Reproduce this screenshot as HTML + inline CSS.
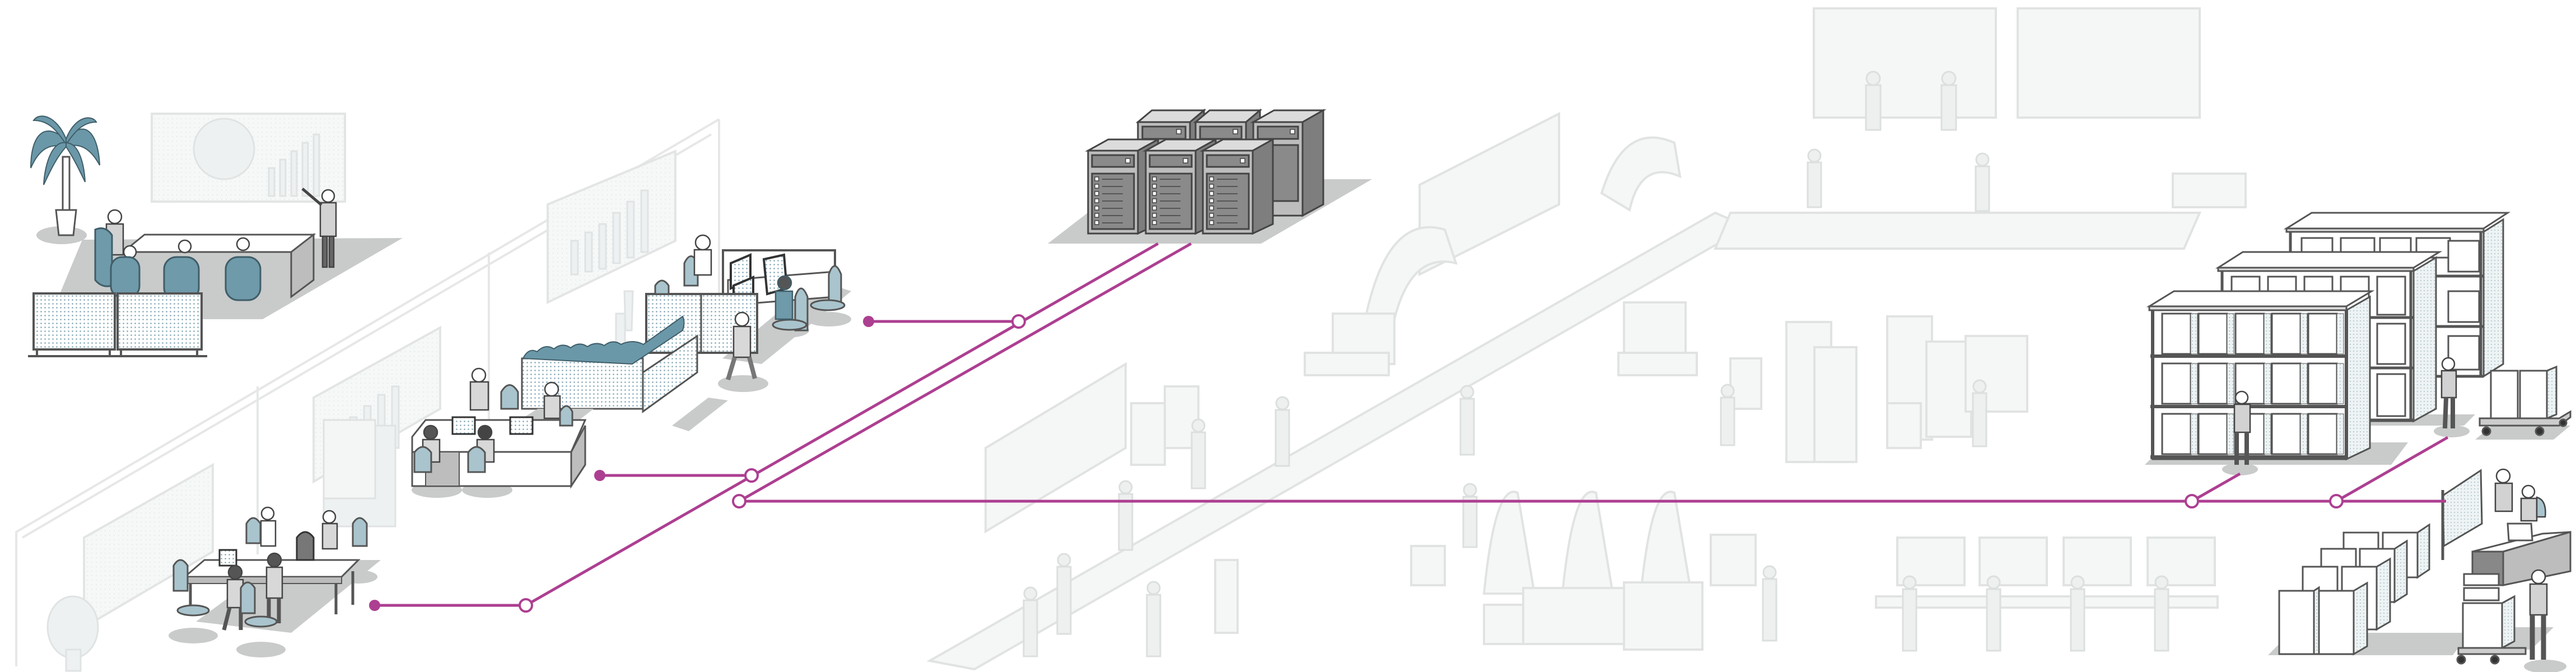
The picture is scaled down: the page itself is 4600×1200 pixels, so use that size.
<!DOCTYPE html>
<html><head><meta charset="utf-8"><style>
html,body{margin:0;padding:0;background:#fff;}
svg{display:block;}
</style></head><body>
<svg width="4600" height="1200" viewBox="0 0 4600 1200" xmlns="http://www.w3.org/2000/svg">
<defs>
<pattern id="dt" width="7" height="7" patternUnits="userSpaceOnUse"><rect width="7" height="7" fill="#fff"/><circle cx="3.5" cy="3.5" r="1.3" fill="#7fa6b4"/></pattern>
<pattern id="ds" width="6" height="6" patternUnits="userSpaceOnUse"><rect width="6" height="6" fill="#eef3f4"/><circle cx="3" cy="3" r="1.1" fill="#b5cad1"/></pattern>
<pattern id="df" width="8" height="8" patternUnits="userSpaceOnUse"><rect width="8" height="8" fill="#f6f8f8"/><circle cx="4" cy="4" r="1" fill="#e2e8e9"/></pattern>
</defs>

<!-- ===== faint walls / background office ===== -->
<g fill="none" stroke="#e6e7e7" stroke-width="4">
<polyline points="1284,213 1284,560"/>
<polyline points="1284,213 29,950 29,1190"/>
<polyline points="1270,240 40,960"/>
<polyline points="873,451 873,770"/>
<polyline points="460,690 460,990"/>
</g>
<!-- faint whiteboards -->
<g fill="url(#df)" stroke="#e3e5e5" stroke-width="4">
<rect x="271" y="203" width="345" height="157"/>
<polygon points="978,365 1206,270 1206,430 978,540"/>
<polygon points="560,710 786,585 786,730 560,860"/>
<polygon points="150,960 380,830 380,985 150,1120"/>
</g>
<g fill="#eef1f1" stroke="#e0e3e3" stroke-width="3">
<circle cx="400" cy="266" r="54"/>
<rect x="480" y="300" width="10" height="50"/><rect x="500" y="285" width="10" height="65"/><rect x="520" y="270" width="10" height="80"/><rect x="540" y="255" width="10" height="95"/><rect x="560" y="240" width="10" height="110"/>
<rect x="1020" y="430" width="12" height="60"/><rect x="1045" y="415" width="12" height="70"/><rect x="1070" y="400" width="12" height="80"/><rect x="1095" y="380" width="12" height="90"/><rect x="1120" y="360" width="12" height="100"/><rect x="1145" y="340" width="12" height="110"/>
<rect x="600" y="760" width="12" height="70"/><rect x="625" y="745" width="12" height="80"/><rect x="650" y="725" width="12" height="90"/><rect x="675" y="705" width="12" height="100"/><rect x="700" y="690" width="12" height="110"/>
<rect x="578" y="760" width="128" height="180"/>
<rect x="1100" y="560" width="16" height="90"/>
<polygon points="1115,520 1130,520 1128,590 1117,590"/>
<ellipse cx="130" cy="1120" rx="45" ry="55"/><rect x="118" y="1160" width="26" height="38"/>
</g>

<!-- ===== meeting room ===== -->
<polygon points="147,428 719,425 469,570 88,570" fill="#c9caca"/>
<ellipse cx="110" cy="420" rx="45" ry="16" fill="#c9caca"/>
<!-- palm -->
<rect x="112" y="280" width="12" height="100" fill="#fff" stroke="#555" stroke-width="3"/>
<path d="M100,375 h36 l-5,45 h-26 z" fill="#fff" stroke="#555" stroke-width="3"/>
<g fill="#6b98a8" stroke="#3f5e69" stroke-width="2">
<path d="M118,250 C80,215 55,240 55,300 C70,265 90,255 118,262 Z"/>
<path d="M118,250 C150,210 175,235 178,295 C160,262 140,255 118,262 Z"/>
<path d="M118,248 C100,205 70,200 60,215 C85,215 100,230 118,258 Z"/>
<path d="M118,248 C135,205 165,205 172,218 C150,218 135,232 118,258 Z"/>
<path d="M118,255 C95,250 80,290 78,330 C92,300 102,280 118,262 Z"/>
<path d="M118,255 C140,255 150,290 152,325 C140,300 130,280 118,262 Z"/>
</g>
<!-- table -->
<polygon points="258,419 560,419 520,450 220,450" fill="#fff" stroke="#555" stroke-width="3"/>
<polygon points="520,450 560,419 560,500 520,530" fill="#bdbdbd" stroke="#555" stroke-width="3"/>
<!-- people meeting -->
<g fill="#d2d2d2" stroke="#444" stroke-width="2.5">
<circle cx="205" cy="387" r="12" fill="#fff"/><path d="M190,400 h30 v55 h-30z"/>
<circle cx="232" cy="450" r="11" fill="#fff"/><circle cx="330" cy="440" r="11" fill="#fff"/><circle cx="434" cy="436" r="11" fill="#fff"/>
<circle cx="586" cy="350" r="11" fill="#fff"/><path d="M572,362 h28 v60 h-28z"/><path d="M576,422 h8 v55 h-8z M588,422 h8 v55 h-8z" fill="#666"/>
<path d="M574,366 L540,337" stroke-width="5"/>
</g>
<g fill="#6f9aaa" stroke="#3f5e69" stroke-width="3">
<path d="M170,410 q18,-8 30,10 v90 q-18,5 -30,-10z"/>
<rect x="198" y="459" width="51" height="72" rx="20"/>
<rect x="293" y="459" width="62" height="77" rx="22"/>
<rect x="403" y="459" width="62" height="77" rx="22"/>
</g>
<!-- partitions -->
<g stroke="#555" stroke-width="4">
<rect x="60" y="524" width="145" height="100" fill="url(#dt)"/>
<rect x="210" y="524" width="150" height="100" fill="url(#dt)"/>
<path d="M66,624 v12 M196,624 v12 M216,624 v12 M352,624 v12 M50,636 h320" fill="none"/>
</g>

<!-- ===== office cluster 2 (cubicle) ===== -->
<polygon points="1290,640 1460,500 1520,520 1360,650" fill="#c9caca"/>
<ellipse cx="1405" cy="590" rx="40" ry="13" fill="#c9caca"/><ellipse cx="1480" cy="570" rx="40" ry="13" fill="#c9caca"/>
<ellipse cx="1327" cy="685" rx="45" ry="15" fill="#c9caca"/>
<rect x="1291" y="447" width="200" height="80" fill="#fff" stroke="#555" stroke-width="4"/>
<polygon points="1300,500 1491,485 1491,530 1300,545" fill="#fff" stroke="#555" stroke-width="3"/>
<g fill="url(#dt)" stroke="#333" stroke-width="4">
<polygon points="1305,470 1340,455 1340,500 1305,515"/>
<polygon points="1364,463 1400,455 1405,515 1370,525"/>
<polygon points="1310,510 1345,495 1345,540 1310,550"/>
</g>
<rect x="1154" y="525" width="198" height="105" fill="url(#dt)" stroke="#555" stroke-width="4"/>
<line x1="1252" y1="525" x2="1252" y2="630" stroke="#555" stroke-width="3"/>
<g fill="#a9c4cd" stroke="#555" stroke-width="3">
<path d="M1222,470 q12,-25 24,0 v40 h-24z"/>
<path d="M1170,510 q12,-18 24,0 v15 h-24z"/>
<path d="M1480,490 q10,-30 22,0 v60 h-22z"/>
<path d="M1420,530 q10,-30 22,0 v60 h-22z"/>
<ellipse cx="1410" cy="580" rx="30" ry="9"/><ellipse cx="1478" cy="545" rx="30" ry="9"/>
</g>
<g fill="#6f9aaa" stroke="#3f5e69" stroke-width="2.5"><path d="M1385,520 h30 v50 h-30z"/><circle cx="1401" cy="505" r="12" fill="#555"/></g>
<g fill="#d8d8d8" stroke="#444" stroke-width="2.5">
<circle cx="1255" cy="433" r="13" fill="#fff"/><path d="M1240,446 h30 v45 h-30z" fill="#fff"/>
<circle cx="1325" cy="570" r="12" fill="#fff"/><path d="M1310,583 h30 v55 h-30z"/>
<path d="M1312,638 l-12,40 M1338,638 l10,38" stroke="#777" stroke-width="8"/>
</g>

<!-- partition with greenery -->
<polygon points="1200,760 1265,710 1300,715 1230,770" fill="#c9caca"/>
<rect x="932" y="640" width="216" height="90" fill="url(#dt)" stroke="#555" stroke-width="3"/>
<polygon points="1148,735 1245,665 1245,600 1148,665" fill="url(#dt)" stroke="#555" stroke-width="3"/>
<path d="M934,640 q10,-20 25,-12 q15,-15 30,-5 q15,-12 30,-2 q15,-12 30,-2 q15,-10 30,-2 q15,-12 30,-2 q20,-10 40,0 l70,-50 q5,10 0,25 l-90,60 z" fill="#6b98a8" stroke="#3f5e69" stroke-width="2"/>

<!-- desk cluster -->
<polygon points="780,842 960,730 1060,730 880,870" fill="#c9caca"/>
<ellipse cx="780" cy="875" rx="45" ry="14" fill="#c9caca"/><ellipse cx="870" cy="875" rx="45" ry="14" fill="#c9caca"/>
<polygon points="736,780 760,750 1045,750 1020,807 736,807" fill="#fff" stroke="#555" stroke-width="3"/>
<polygon points="736,807 1020,807 1020,868 736,868" fill="#fff" stroke="#555" stroke-width="3"/>
<polygon points="1020,807 1045,760 1045,830 1020,868" fill="#bdbdbd" stroke="#555" stroke-width="3"/>
<rect x="760" y="807" width="60" height="61" fill="#bdbdbd" stroke="#555" stroke-width="2"/>
<g fill="url(#dt)" stroke="#333" stroke-width="3"><rect x="808" y="745" width="40" height="30"/><rect x="911" y="745" width="40" height="30"/></g>
<g fill="#d8d8d8" stroke="#444" stroke-width="2.5">
<circle cx="855" cy="670" r="12" fill="#fff"/><path d="M840,682 h32 v50 h-32z"/>
<circle cx="769" cy="772" r="12" fill="#555"/><path d="M755,785 h30 v40 h-30z"/>
<circle cx="866" cy="772" r="12" fill="#444"/><path d="M852,785 h30 v40 h-30z"/>
<circle cx="985" cy="695" r="12" fill="#fff"/><path d="M972,707 h28 v40 h-28z"/>
</g>
<g fill="#a9c4cd" stroke="#555" stroke-width="3">
<path d="M740,808 q15,-20 30,0 v35 h-30z"/><path d="M836,808 q15,-20 30,0 v35 h-30z"/>
<path d="M895,700 q15,-25 30,0 v30 h-30z"/><path d="M1000,735 q12,-20 22,0 v25 h-22z"/>
</g>
<g fill="#f4f5f5" stroke="#e0e2e2" stroke-width="3"><rect x="578" y="750" width="92" height="140"/></g>

<!-- bottom left cluster -->
<polygon points="350,1110 500,1000 680,1000 520,1130" fill="#c9caca"/>
<ellipse cx="345" cy="1135" rx="44" ry="14" fill="#c9caca"/><ellipse cx="466" cy="1160" rx="44" ry="14" fill="#c9caca"/><ellipse cx="640" cy="1030" rx="34" ry="12" fill="#c9caca"/>
<polygon points="330,1030 365,1000 640,1000 610,1030" fill="#fff" stroke="#555" stroke-width="3"/>
<polygon points="330,1030 610,1030 610,1042 330,1042" fill="#bbb" stroke="#555" stroke-width="2"/>
<path d="M340,1042 v55 M600,1042 v55 M630,1020 v60" stroke="#555" stroke-width="5"/>
<rect x="392" y="982" width="30" height="28" fill="url(#dt)" stroke="#333" stroke-width="3"/>
<path d="M530,960 q15,-20 30,0 v40 h-30z" fill="#777" stroke="#333" stroke-width="3"/>
<g fill="#d8d8d8" stroke="#444" stroke-width="2.5">
<circle cx="478" cy="917" r="11" fill="#fff"/><path d="M466,930 h26 v45 h-26z" fill="#fff"/>
<circle cx="588" cy="923" r="11" fill="#fff"/><path d="M576,935 h26 v45 h-26z"/>
<circle cx="420" cy="1022" r="12" fill="#555"/><path d="M406,1035 h28 v50 h-28z"/><path d="M410,1085 l-10,40 M430,1085 v40" stroke="#555" stroke-width="7"/>
<circle cx="490" cy="1000" r="12" fill="#555"/><path d="M476,1013 h28 v55 h-28z"/><path d="M480,1068 v45 M498,1068 v45" stroke="#555" stroke-width="7"/>
</g>
<g fill="#a9c4cd" stroke="#555" stroke-width="3">
<path d="M440,935 q12,-20 25,0 v35 h-25z"/><path d="M630,935 q12,-20 25,0 v40 h-25z"/>
<path d="M310,1010 q12,-20 25,0 v45 h-25z"/><path d="M430,1050 q12,-20 25,0 v45 h-25z"/>
<ellipse cx="345" cy="1090" rx="28" ry="9"/><ellipse cx="466" cy="1110" rx="28" ry="9"/>
</g>

<!-- ===== faint factory ===== -->
<g fill="#f5f6f6" stroke="#e1e3e3" stroke-width="4">
<!-- diagonal conveyor -->
<polygon points="3063,380 3120,405 1740,1195 1660,1180"/>
<!-- top conveyor -->
<polygon points="3090,380 3928,380 3900,444 3063,444"/>
<!-- boards -->
<polygon points="2535,330 2784,203 2784,365 2535,490"/>
<polygon points="1760,800 2010,650 2010,800 1760,949"/>
<rect x="3239" y="15" width="325" height="195"/>
<rect x="3603" y="15" width="325" height="195"/>
<rect x="3880" y="310" width="130" height="60"/>
<!-- robot arms -->
<path d="M2440,560 q40,-180 140,-150 l20,60 q-80,-20 -110,100z"/>
<path d="M2860,345 q40,-130 130,-90 l10,60 q-70,-30 -90,60z"/>
<rect x="2380" y="560" width="110" height="90"/><rect x="2900" y="540" width="110" height="90"/>
<rect x="2330" y="630" width="150" height="40"/><rect x="2890" y="630" width="140" height="40"/>
<!-- middle machines -->
<rect x="3190" y="575" width="80" height="250"/><rect x="3240" y="620" width="75" height="205"/>
<rect x="3370" y="565" width="80" height="220"/><rect x="3440" y="610" width="80" height="170"/>
<rect x="3510" y="600" width="110" height="135"/><rect x="3090" y="640" width="55" height="90"/>
<rect x="3370" y="720" width="60" height="80"/>
<!-- bottom machines -->
<path d="M2650,1060 q20,-200 60,-180 l30,180z"/><path d="M2790,1060 q20,-200 60,-180 l30,180z"/><path d="M2930,1060 q20,-200 60,-180 l30,180z"/>
<rect x="2720" y="1050" width="180" height="100"/><rect x="2650" y="1080" width="70" height="70"/>
<rect x="2900" y="1040" width="140" height="120"/><rect x="2520" y="975" width="60" height="70"/>
<rect x="3055" y="955" width="80" height="90"/>
<!-- monitors bottom -->
<rect x="3388" y="960" width="120" height="85"/><rect x="3535" y="960" width="120" height="85"/><rect x="3685" y="960" width="120" height="85"/><rect x="3835" y="960" width="120" height="85"/>
<rect x="3350" y="1065" width="610" height="20"/>
<!-- left-center factory stuff -->
<rect x="2020" y="720" width="60" height="110"/><rect x="2080" y="690" width="60" height="110"/>
<rect x="2170" y="1000" width="40" height="130"/>
</g>
<g fill="#eef0f0" stroke="#dcdfdf" stroke-width="3">
<!-- faint people -->
<circle cx="3345" cy="140" r="12"/><rect x="3332" y="152" width="26" height="80"/>
<circle cx="3480" cy="140" r="12"/><rect x="3467" y="152" width="26" height="80"/>
<circle cx="3240" cy="278" r="11"/><rect x="3228" y="290" width="24" height="80"/>
<circle cx="3540" cy="285" r="11"/><rect x="3528" y="297" width="24" height="80"/>
<circle cx="3085" cy="698" r="11"/><rect x="3073" y="710" width="24" height="85"/>
<circle cx="3535" cy="690" r="11"/><rect x="3523" y="702" width="24" height="95"/>
<circle cx="2625" cy="875" r="11"/><rect x="2613" y="887" width="24" height="90"/>
<circle cx="3160" cy="1022" r="11"/><rect x="3148" y="1034" width="24" height="110"/>
<circle cx="3410" cy="1040" r="11"/><rect x="3398" y="1052" width="24" height="110"/>
<circle cx="3560" cy="1040" r="11"/><rect x="3548" y="1052" width="24" height="110"/>
<circle cx="3710" cy="1040" r="11"/><rect x="3698" y="1052" width="24" height="110"/>
<circle cx="3860" cy="1040" r="11"/><rect x="3848" y="1052" width="24" height="110"/>
<circle cx="2620" cy="700" r="11"/><rect x="2608" y="712" width="24" height="100"/>
<circle cx="2290" cy="720" r="11"/><rect x="2278" y="732" width="24" height="100"/>
<circle cx="2010" cy="870" r="11"/><rect x="1998" y="882" width="24" height="100"/>
<circle cx="2140" cy="760" r="11"/><rect x="2128" y="772" width="24" height="100"/>
<circle cx="1900" cy="1000" r="11"/><rect x="1888" y="1012" width="24" height="120"/>
<circle cx="1840" cy="1060" r="11"/><rect x="1828" y="1072" width="24" height="100"/>
<circle cx="2060" cy="1050" r="11"/><rect x="2048" y="1062" width="24" height="110"/>
</g>

<!-- ===== servers ===== -->
<polygon points="2020,320 2450,320 2252,435 1871,435" fill="#c9caca"/>
<g stroke="#444" stroke-width="3">
<!-- back row -->
<g>
<polygon points="2032,218 2125,218 2150,197 2057,197" fill="#dcdcdc"/><rect x="2032" y="218" width="93" height="170" fill="#bdbdbd"/><polygon points="2125,218 2150,197 2150,370 2125,388" fill="#7e7e7e"/><rect x="2040" y="226" width="77" height="22" fill="#8a8a8a"/>
<polygon points="2135,218 2225,218 2250,197 2160,197" fill="#dcdcdc"/><rect x="2135" y="218" width="90" height="170" fill="#bdbdbd"/><polygon points="2225,218 2250,197 2250,370 2225,388" fill="#7e7e7e"/><rect x="2143" y="226" width="74" height="22" fill="#8a8a8a"/>
<polygon points="2238,218 2326,218 2363,197 2275,197" fill="#dcdcdc"/><rect x="2238" y="218" width="88" height="167" fill="#bdbdbd"/><polygon points="2326,218 2363,197 2363,365 2326,385" fill="#7e7e7e"/><rect x="2246" y="226" width="72" height="22" fill="#8a8a8a"/><rect x="2246" y="259" width="72" height="100" fill="#8a8a8a"/>
</g>
<!-- front row -->
<g>
<polygon points="1943,269 2032,269 2068,249 1979,249" fill="#dcdcdc"/><rect x="1943" y="269" width="89" height="148" fill="#bdbdbd"/><polygon points="2032,269 2068,249 2068,400 2032,417" fill="#7e7e7e"/><rect x="1950" y="277" width="75" height="21" fill="#8a8a8a"/><rect x="1950" y="310" width="75" height="99" fill="#8a8a8a"/>
<polygon points="2046,269 2135,269 2171,249 2082,249" fill="#dcdcdc"/><rect x="2046" y="269" width="89" height="148" fill="#bdbdbd"/><polygon points="2135,269 2171,249 2171,400 2135,417" fill="#7e7e7e"/><rect x="2053" y="277" width="75" height="21" fill="#8a8a8a"/><rect x="2053" y="310" width="75" height="99" fill="#8a8a8a"/>
<polygon points="2148,269 2237,269 2273,249 2184,249" fill="#dcdcdc"/><rect x="2148" y="269" width="89" height="148" fill="#bdbdbd"/><polygon points="2237,269 2273,249 2273,400 2237,417" fill="#7e7e7e"/><rect x="2155" y="277" width="75" height="21" fill="#8a8a8a"/><rect x="2155" y="310" width="75" height="99" fill="#8a8a8a"/>
</g>
</g>
<g fill="#fff" stroke="#444" stroke-width="1.5">
<rect x="2010" y="283" width="8" height="8"/><rect x="2113" y="283" width="8" height="8"/><rect x="2215" y="283" width="8" height="8"/>
<rect x="2101" y="231" width="8" height="8"/><rect x="2202" y="231" width="8" height="8"/><rect x="2304" y="231" width="8" height="8"/>
</g>
<g stroke="#555" stroke-width="2">
<path d="M1968,320h37M1968,333h37M1968,346h37M1968,359h37M1968,372h37M1968,385h37M1968,398h37"/>
<path d="M2071,320h37M2071,333h37M2071,346h37M2071,359h37M2071,372h37M2071,385h37M2071,398h37"/>
<path d="M2173,320h37M2173,333h37M2173,346h37M2173,359h37M2173,372h37M2173,385h37M2173,398h37"/>
</g>
<g fill="#fff" stroke="#444" stroke-width="1.5">
<rect x="1955" y="316" width="7" height="7"/><rect x="1955" y="329" width="7" height="7"/><rect x="1955" y="342" width="7" height="7"/><rect x="1955" y="355" width="7" height="7"/><rect x="1955" y="368" width="7" height="7"/><rect x="1955" y="381" width="7" height="7"/><rect x="1955" y="394" width="7" height="7"/>
<rect x="2058" y="316" width="7" height="7"/><rect x="2058" y="329" width="7" height="7"/><rect x="2058" y="342" width="7" height="7"/><rect x="2058" y="355" width="7" height="7"/><rect x="2058" y="368" width="7" height="7"/><rect x="2058" y="381" width="7" height="7"/><rect x="2058" y="394" width="7" height="7"/>
<rect x="2160" y="316" width="7" height="7"/><rect x="2160" y="329" width="7" height="7"/><rect x="2160" y="342" width="7" height="7"/><rect x="2160" y="355" width="7" height="7"/><rect x="2160" y="368" width="7" height="7"/><rect x="2160" y="381" width="7" height="7"/><rect x="2160" y="394" width="7" height="7"/>
</g>

<!-- ===== racks ===== -->
<polygon points="3830,830 4270,830 4300,790 3870,790" fill="#c9caca"/>
<polygon points="4200,760 4400,760 4420,740 4220,740" fill="#c9caca"/>
<!-- rack3 -->
<g stroke="#555" stroke-width="3">
<polygon points="4083,408 4435,408 4478,380 4128,380" fill="#fff"/>
<rect x="4083" y="408" width="352" height="6" fill="#ddd"/>
<rect x="4090" y="414" width="345" height="258" fill="#fff"/>
<polygon points="4435,414 4470,392 4470,650 4435,672" fill="url(#ds)"/>
<path d="M4090,414v258 M4430,414v258 M4090,493h345 M4090,583h345 M4090,672h345" fill="none" stroke-width="5"/>
<rect x="4110" y="425" width="55" height="35" fill="#fff"/><rect x="4180" y="425" width="60" height="35" fill="#fff"/><rect x="4250" y="425" width="55" height="35" fill="#fff"/><rect x="4315" y="425" width="60" height="35" fill="#fff"/>
<rect x="4372" y="430" width="55" height="55" fill="#fff"/><rect x="4372" y="520" width="55" height="55" fill="#fff"/><rect x="4372" y="600" width="55" height="60" fill="#fff"/>
</g>
<!-- rack2 -->
<g stroke="#555" stroke-width="3">
<polygon points="3961,478 4310,478 4356,450 4005,450" fill="#fff"/>
<rect x="3961" y="478" width="349" height="6" fill="#ddd"/>
<rect x="3968" y="484" width="342" height="268" fill="#fff"/>
<polygon points="4310,484 4350,460 4350,730 4310,752" fill="url(#ds)"/>
<path d="M3968,484v268 M4305,484v268 M3968,567h342 M3968,657h342 M3968,750h342" fill="none" stroke-width="5"/>
<rect x="3985" y="494" width="50" height="68" fill="#fff"/><rect x="4050" y="494" width="50" height="68" fill="#fff"/><rect x="4115" y="494" width="50" height="68" fill="#fff"/><rect x="4180" y="494" width="50" height="68" fill="#fff"/><rect x="4245" y="494" width="50" height="68" fill="#fff"/>
<rect x="4245" y="578" width="50" height="72" fill="#fff"/><rect x="4245" y="668" width="50" height="75" fill="#fff"/>
</g>
<!-- rack1 -->
<g stroke="#555" stroke-width="3">
<polygon points="3838,547 4190,547 4235,520 3882,520" fill="#fff"/>
<rect x="3838" y="547" width="352" height="7" fill="#ddd"/>
<rect x="3844" y="554" width="346" height="266" fill="#fff"/>
<polygon points="4190,554 4232,530 4232,800 4190,820" fill="url(#ds)"/>
<path d="M3844,554v266 M4190,554v266 M3840,636h352 M3840,726h352 M3840,816h352" fill="none" stroke-width="6"/>
<g fill="#fff">
<rect x="3861" y="560" width="51" height="72"/><rect x="3926" y="560" width="51" height="72"/><rect x="3992" y="560" width="51" height="72"/><rect x="4057" y="560" width="51" height="72"/><rect x="4122" y="560" width="51" height="72"/>
<rect x="3861" y="649" width="51" height="72"/><rect x="3926" y="649" width="51" height="72"/><rect x="3992" y="649" width="51" height="72"/><rect x="4057" y="649" width="51" height="72"/><rect x="4122" y="649" width="51" height="72"/>
<rect x="3861" y="739" width="51" height="72"/><rect x="3926" y="739" width="51" height="72"/><rect x="3992" y="739" width="51" height="72"/><rect x="4057" y="739" width="51" height="72"/><rect x="4122" y="739" width="51" height="72"/>
</g>
<g fill="url(#ds)" stroke-width="1">
<rect x="3912" y="560" width="12" height="72"/><rect x="3977" y="560" width="12" height="72"/><rect x="4043" y="560" width="12" height="72"/><rect x="4108" y="560" width="12" height="72"/><rect x="4173" y="560" width="12" height="72"/>
<rect x="3912" y="649" width="12" height="72"/><rect x="3977" y="649" width="12" height="72"/><rect x="4043" y="649" width="12" height="72"/><rect x="4108" y="649" width="12" height="72"/><rect x="4173" y="649" width="12" height="72"/>
<rect x="3912" y="739" width="12" height="72"/><rect x="3977" y="739" width="12" height="72"/><rect x="4043" y="739" width="12" height="72"/><rect x="4108" y="739" width="12" height="72"/><rect x="4173" y="739" width="12" height="72"/>
</g>
</g>
<!-- rack people -->
<ellipse cx="4000" cy="838" rx="32" ry="11" fill="#c9caca"/>
<ellipse cx="4378" cy="770" rx="32" ry="11" fill="#c9caca"/>
<g stroke="#444" stroke-width="2.5">
<circle cx="4003" cy="710" r="11" fill="#fff"/><path d="M3990,722 h28 v50 h-28z" fill="#d2d2d2"/><path d="M3994,772 v58 M4012,772 v58" stroke="#555" stroke-width="8"/>
<circle cx="4372" cy="650" r="11" fill="#fff"/><path d="M4360,662 h26 v48 h-26z" fill="#d2d2d2"/><path d="M4368,710 l-2,55 M4380,710 v55" stroke="#555" stroke-width="8"/>
</g>
<!-- cart by racks -->
<polygon points="4420,785 4560,785 4590,760 4450,760" fill="#c9caca"/>
<g stroke="#555" stroke-width="3">
<rect x="4448" y="662" width="48" height="85" fill="#fff"/><rect x="4500" y="662" width="48" height="85" fill="#fff"/>
<polygon points="4548,662 4565,655 4565,740 4548,747" fill="url(#ds)"/>
<polygon points="4428,747 4570,747 4590,735 4590,745 4570,760 4428,760" fill="#ccc"/>
<circle cx="4440" cy="770" r="7" fill="#333"/><circle cx="4535" cy="770" r="7" fill="#333"/><circle cx="4577" cy="755" r="6" fill="#333"/>
</g>

<!-- ===== bottom right ===== -->
<polygon points="4050,1170 4380,1170 4410,1130 4090,1130" fill="#c9caca"/>
<polygon points="4370,1160 4520,1160 4560,1120 4410,1120" fill="#c9caca"/>
<ellipse cx="4545" cy="1190" rx="38" ry="12" fill="#c9caca"/>
<g stroke="#555" stroke-width="3">
<!-- board -->
<polygon points="4362,885 4430,840 4432,935 4364,975" fill="url(#ds)"/>
<path d="M4362,875 v125" stroke-width="5"/>
<!-- desk -->
<polygon points="4415,985 4540,953 4590,950 4470,985" fill="#fff"/>
<polygon points="4470,985 4590,950 4590,1020 4470,1045" fill="#bdbdbd"/>
<rect x="4415" y="985" width="55" height="60" fill="#888"/>
<polygon points="4478,935 4520,935 4522,965 4480,965" fill="#fff"/>
<!-- boxes -->
<rect x="4185" y="951" width="62" height="80" fill="#fff"/><rect x="4255" y="951" width="62" height="80" fill="#fff"/><polygon points="4317,951 4338,937 4338,1017 4317,1031" fill="url(#ds)"/>
<rect x="4145" y="980" width="62" height="95" fill="#fff"/><rect x="4214" y="980" width="62" height="95" fill="#fff"/><polygon points="4276,980 4298,966 4298,1061 4276,1075" fill="url(#ds)"/>
<rect x="4112" y="1012" width="62" height="112" fill="#fff"/><rect x="4182" y="1012" width="62" height="112" fill="#fff"/><polygon points="4244,1012 4268,998 4268,1110 4244,1124" fill="url(#ds)"/>
<rect x="4070" y="1055" width="62" height="113" fill="#fff"/><rect x="4141" y="1055" width="62" height="113" fill="#fff"/><polygon points="4203,1055 4227,1041 4227,1154 4203,1168" fill="url(#ds)"/>
<polygon points="4132,1055 4141,1049 4141,1168 4132,1168" fill="url(#ds)"/>
<!-- cart -->
<rect x="4400" y="1025" width="62" height="20" fill="#fff"/><rect x="4400" y="1050" width="62" height="22" fill="#fff"/>
<rect x="4398" y="1077" width="70" height="80" fill="#fff"/><polygon points="4468,1077 4490,1065 4490,1145 4468,1157" fill="url(#ds)"/>
<polygon points="4390,1157 4510,1157 4510,1168 4390,1168" fill="#ccc"/>
<circle cx="4395" cy="1178" r="7" fill="#333"/><circle cx="4455" cy="1178" r="7" fill="#333"/>
</g>
<g stroke="#444" stroke-width="2.5">
<circle cx="4470" cy="850" r="12" fill="#fff"/><path d="M4456,863 h30 v50 h-30z" fill="#d2d2d2"/>
<circle cx="4515" cy="878" r="11" fill="#fff"/><path d="M4502,890 h28 v40 h-28z" fill="#d2d2d2"/><path d="M4530,888 q18,5 15,35 h-15z" fill="#a9c4cd"/>
<circle cx="4533" cy="1030" r="12" fill="#fff"/><path d="M4518,1043 h30 v55 h-30z" fill="#d2d2d2"/><path d="M4522,1098 v80 M4542,1098 v80" stroke="#555" stroke-width="9"/>
</g>

<!-- ===== magenta network ===== -->
<g stroke="#ad3f91" stroke-width="5" fill="none">
<line x1="669" y1="1081" x2="939" y2="1081"/>
<line x1="939" y1="1081" x2="2068" y2="435"/>
<line x1="1071" y1="849" x2="1342" y2="849"/>
<line x1="1551" y1="574" x2="1819" y2="574"/>
<line x1="1320" y1="895" x2="2127" y2="435"/>
<line x1="1320" y1="895" x2="4368" y2="895"/>
<line x1="3914" y1="895" x2="4000" y2="846"/>
<line x1="4172" y1="895" x2="4371" y2="781"/>
</g>
<g fill="#ad3f91">
<circle cx="669" cy="1081" r="10"/><circle cx="1071" cy="849" r="10"/><circle cx="1551" cy="574" r="10"/>
</g>
<g fill="#fff" stroke="#ad3f91" stroke-width="4">
<circle cx="939" cy="1081" r="11"/><circle cx="1342" cy="849" r="11"/><circle cx="1819" cy="574" r="11"/><circle cx="1320" cy="895" r="11"/>
<circle cx="3914" cy="895" r="11"/><circle cx="4172" cy="895" r="11"/>
</g>
</svg>
</body></html>
